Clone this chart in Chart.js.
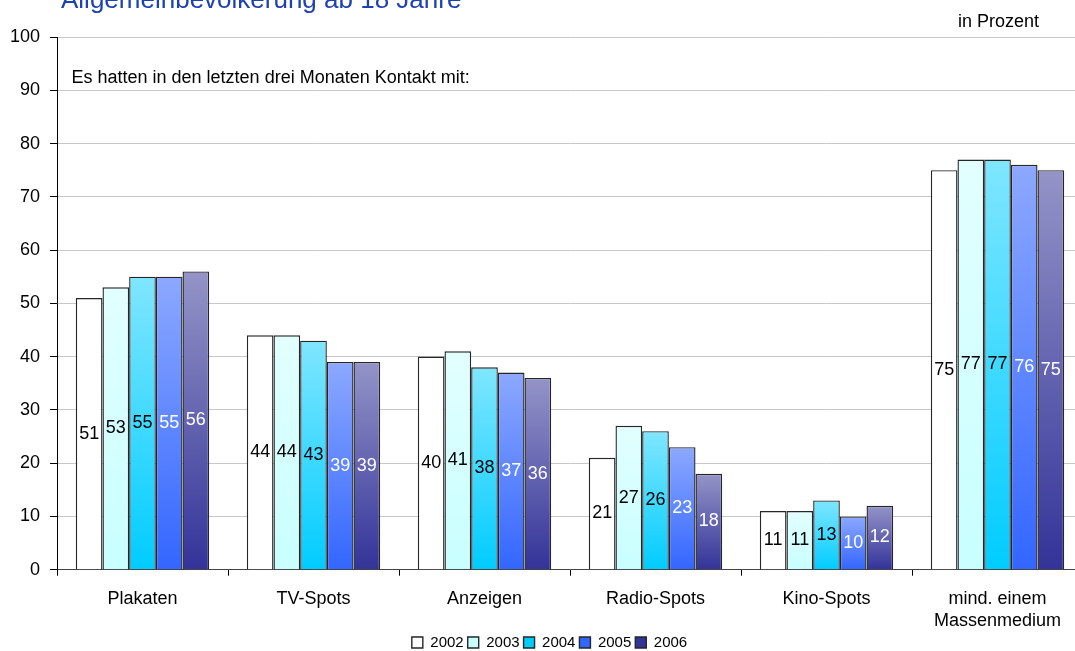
<!DOCTYPE html>
<html>
<head>
<meta charset="utf-8">
<script src="https://cdn.jsdelivr.net/npm/chart.js@4.4.1/dist/chart.umd.min.js"></script>
<style>
  html, body { margin: 0; padding: 0; background: #ffffff; overflow: hidden; }
  #wrap { position: absolute; left: 0; top: 0; width: 1083px; height: 651px; }
</style>
</head>
<body>
<div id="wrap"><canvas id="c"></canvas></div>
<script>
// ---- data ----
const categories = ['Plakaten', 'TV-Spots', 'Anzeigen', 'Radio-Spots', 'Kino-Spots', ['mind. einem', 'Massenmedium']];
const seriesNames = ['2002', '2003', '2004', '2005', '2006'];
const values2002 = [51, 44, 40, 21, 11, 75];
const values2003 = [53, 44, 41, 27, 11, 77];
const values2004 = [55, 43, 38, 26, 13, 77];
const values2005 = [55, 39, 37, 23, 10, 76];
const values2006 = [56, 39, 36, 18, 12, 75];
const yTicks = [0, 10, 20, 30, 40, 50, 60, 70, 80, 90, 100];
const titleText = 'Allgemeinbevölkerung ab 18 Jahre';
const unitText = 'in Prozent';
const noteText = 'Es hatten in den letzten drei Monaten Kontakt mit:';

// ---- styles ----
const FONT = "'Liberation Sans', Arial, sans-serif";
const gradTop    = ['#ffffff', '#e2ffff', '#80e6ff', '#8ca8ff', '#9494c8'];
const gradBottom = ['#ffffff', '#c8ffff', '#00ccff', '#3366ff', '#333399'];
const legendFill = ['#ffffff', '#ccffff', '#20ccf8', '#4070ff', '#4a4a9c'];
const labelColors = ['#000000', '#000000', '#000000', '#ffffff', '#ffffff'];

function makeGradient(i) {
  return function (ctx) {
    if (ctx.type !== 'data') return legendFill[i];
    const chart = ctx.chart;
    if (!chart.chartArea || !chart.scales.y) return gradBottom[i];
    const ys = chart.scales.y;
    const yTop = ys.getPixelForValue(ctx.raw);
    const yBase = ys.getPixelForValue(0);
    if (!isFinite(yTop) || !isFinite(yBase) || yTop === yBase) return gradBottom[i];
    const g = chart.ctx.createLinearGradient(0, yTop, 0, yBase);
    g.addColorStop(0, gradTop[i]);
    g.addColorStop(1, gradBottom[i]);
    return g;
  };
}

const allValues = [values2002, values2003, values2004, values2005, values2006];
const datasets = allValues.map((vals, i) => ({
  label: seriesNames[i],
  data: vals,
  backgroundColor: makeGradient(i),
  borderColor: '#262626',
  borderWidth: 1.4,
  borderSkipped: 'bottom',
  categoryPercentage: 0.78,
  barPercentage: 1.0
}));

const valueLabels = {
  id: 'valueLabels',
  afterDatasetsDraw(chart) {
    const c = chart.ctx;
    c.save();
    c.font = '18px ' + FONT;
    c.textAlign = 'center';
    c.textBaseline = 'middle';
    chart.data.datasets.forEach((ds, di) => {
      const meta = chart.getDatasetMeta(di);
      c.fillStyle = labelColors[di];
      meta.data.forEach((el, idx) => {
        const v = ds.data[idx];
        c.fillText(String(v), el.x, (el.y + el.base) / 2);
      });
    });
    c.restore();
  }
};

const annotations = {
  id: 'annotations',
  afterDraw(chart) {
    const c = chart.ctx;
    c.save();
    c.textAlign = 'left';
    c.textBaseline = 'alphabetic';
    c.fillStyle = '#1f42b2';
    c.font = '26px ' + FONT;
    c.fillText(titleText, 61, 7.5);
    c.fillStyle = '#000000';
    c.font = '18px ' + FONT;
    c.fillText(unitText, 958, 26.5);
    c.fillText(noteText, 71.5, 82.5);
    c.restore();
  }
};

const legendShift = {
  id: 'legendShift',
  afterLayout(chart) {
    if (chart.legend) { chart.legend.left += 8; chart.legend.right += 8; }
  }
};

new Chart(document.getElementById('c'), {
  type: 'bar',
  data: { labels: categories, datasets },
  options: {
    responsive: true,
    maintainAspectRatio: false,
    animation: false,
    devicePixelRatio: 1,
    layout: { padding: { top: 37, left: 0, right: 0, bottom: 0 } },
    plugins: {
      legend: {
        position: 'bottom',
        maxHeight: 20,
        labels: {
          font: { family: FONT, size: 15 },
          color: '#000000',
          boxWidth: 11,
          boxHeight: 11,
          padding: 4
        }
      },
      title: { display: false },
      tooltip: { enabled: false }
    },
    scales: {
      x: {
        type: 'category',
        offset: true,
        grid: { offset: true, drawOnChartArea: false, tickLength: 6, tickColor: '#000000', lineWidth: 1 },
        border: { color: '#444444', width: 1 },
        ticks: { font: { family: FONT, size: 18 }, color: '#000000', padding: 13, maxRotation: 0, autoSkip: false },
        afterFit(scale) { scale.height = 61.3; }
      },
      y: {
        min: 0,
        max: 100,
        afterBuildTicks(scale) { scale.ticks = yTicks.map(v => ({ value: v })); },
        grid: { color: '#c8c8c8', tickColor: '#000000', tickLength: 7, lineWidth: 1 },
        border: { color: '#000000', width: 1 },
        ticks: { font: { family: FONT, size: 18 }, color: '#000000', padding: 10 },
        afterFit(scale) { scale.width = 57; }
      }
    }
  },
  plugins: [valueLabels, annotations, legendShift]
});
</script>
</body>
</html>
